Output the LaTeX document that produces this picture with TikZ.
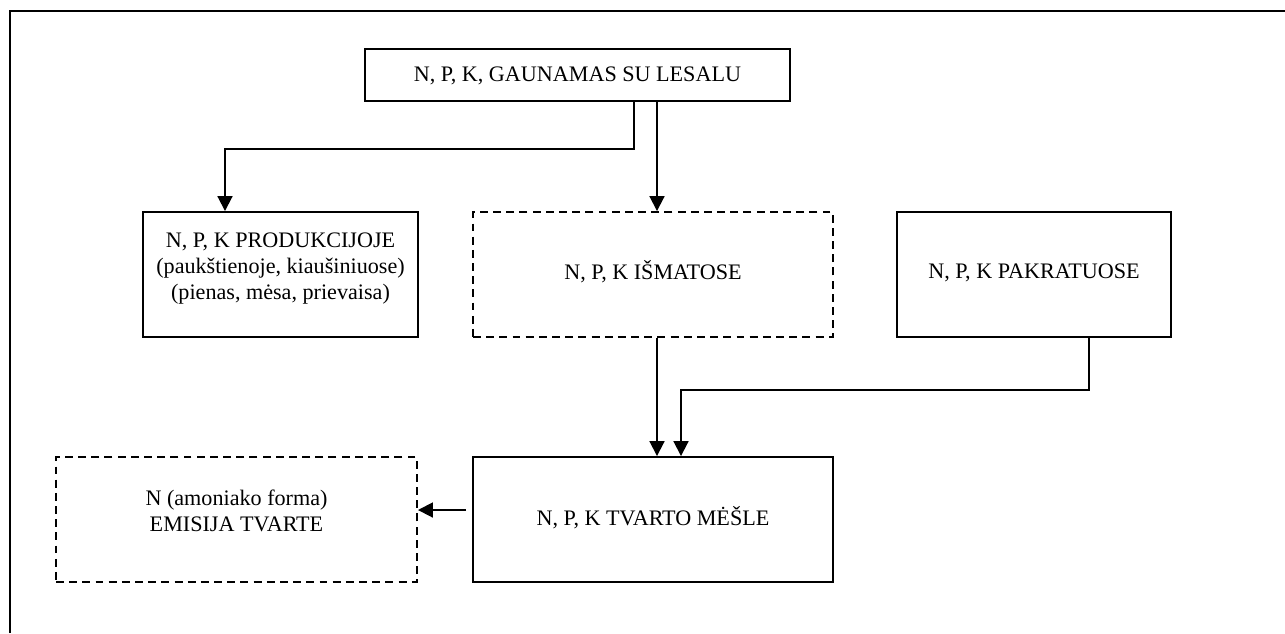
\documentclass[tikz,border=0pt]{standalone}
\usepackage{fontspec}
\setmainfont{Liberation Serif}
\usetikzlibrary{arrows.meta}

\tikzset{
  box/.style={draw, line width=1.1pt, minimum width=#1*0.02cm, minimum height=125*0.02cm, inner sep=0pt},
  dbox/.style={box=#1, dash pattern=on 4.5pt off 3pt},
  txt/.style={align=center, inner sep=0pt, yshift=#1*0.02cm, font=\fontsize{12.6}{14.7}\selectfont},
  txt/.default=0,
  arr/.style={line width=1.1pt, -{Triangle[width=8.5pt,length=8.5pt]}}
}

\begin{document}
\begin{tikzpicture}[x=0.02cm, y=-0.02cm]
    \useasboundingbox (0,0) rectangle (1285,633);

    % Frame
    \draw[line width=1.3pt] (10,633) -- (10,11) -- (1285,11);

    % Boxes
    \node[box=425, minimum height=52*0.02cm, label={[txt=-1]center:N, P, K, GAUNAMAS SU LESALU}]
        (lesalai) at (577.5,75) {};
    \node[box=275, label={[txt=6]center:N, P, K PRODUKCIJOJE\\(paukštienoje, kiaušiniuose)\\(pienas, mėsa, prievaisa)}]
        (produkcija) at (280.5,274.5) {};
    \node[dbox=360, label={[txt=3]center:N, P, K IŠMATOSE}] (ismatos) at (653,274.5) {};
    \node[box=274, label={[txt=2]center:N, P, K PAKRATUOSE}] (pakratai) at (1034,274.5) {};
    \node[box=360, label={[txt=2]center:N, P, K TVARTO MĖŠLE}] (meslas) at (653,519.5) {};
    \node[dbox=361, label={[txt=9]center:N (amoniako forma)\\EMISIJA TVARTE}] (emisija) at (236.5,519.5) {};

    % Connectors
    \draw[arr] (lesalai.south -| 634,0) |- (225,149) -- (produkcija.north -| 225,0);
    \draw[arr] (lesalai.south -| 657,0) -- (ismatos.north -| 657,0);
    \draw[arr] (ismatos.south -| 657,0) -- (meslas.north -| 657,0);
    \draw[arr] (pakratai.south -| 1089,0) |- (681,390) -- (meslas.north -| 681,0);
    \coordinate (emis-start) at (466,510);
    \draw[arr] (emis-start) -- (emisija.east |- emis-start);

\end{tikzpicture}
\end{document}
